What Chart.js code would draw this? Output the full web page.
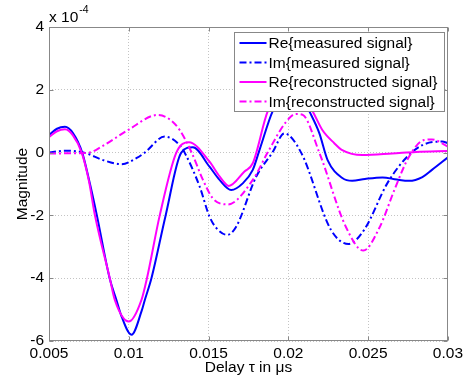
<!DOCTYPE html>
<html><head><meta charset="utf-8">
<script src="https://cdn.jsdelivr.net/npm/chart.js@4"></script>
<style>html,body{margin:0;padding:0;background:#fff}canvas{display:block}</style>
</head><body>
<canvas id="c" width="466" height="383"></canvas>
<script>
// ---- data (y values in units of 1e-4) ----
const xTicks = [0.005, 0.01, 0.015, 0.02, 0.025, 0.03];
const yTicks = [-6, -4, -2, 0, 2, 4];
const seriesNames = ['Re{measured signal}', 'Im{measured signal}', 'Re{reconstructed signal}', 'Im{reconstructed signal}'];

const reMeasX = [0.005, 0.0055, 0.006, 0.0065, 0.00708, 0.0075, 0.008, 0.0088, 0.00923, 0.0095, 0.01017, 0.0108, 0.0110, 0.01142, 0.01231, 0.01329, 0.01402, 0.01506, 0.01569, 0.01642, 0.01714, 0.01777, 0.01819, 0.01902, 0.0203, 0.02131, 0.02194, 0.02246, 0.02338, 0.0240, 0.0248, 0.0259, 0.0268, 0.02756, 0.0284, 0.0290, 0.0300];
const reMeasY = [0.56, 0.76, 0.82, 0.62, 0.0, -0.85, -2.0, -4.0, -4.7, -5.15, -5.8, -5.05, -4.7, -4.0, -2.0, 0.0, 0.17, -0.45, -0.87, -1.19, -0.98, -0.55, 0.08, 1.32, 2.3, 1.32, 0.62, -0.24, -0.81, -0.9, -0.84, -0.79, -0.86, -0.9, -0.78, -0.55, -0.15];

const imMeasX = [0.005, 0.006, 0.0072, 0.0084, 0.00954, 0.0105, 0.011, 0.01225, 0.01319, 0.0135, 0.01444, 0.01506, 0.01548, 0.01617, 0.01673, 0.01798, 0.0190, 0.01975, 0.0208, 0.02267, 0.02377, 0.02475, 0.0262, 0.02736, 0.0284, 0.02964, 0.030];
const imMeasY = [0.0, 0.06, 0.0, -0.24, -0.37, -0.17, 0.0, 0.51, 0.24, 0.0, -1.08, -2.04, -2.4, -2.62, -2.36, -0.77, 0.0, 0.61, 0.0, -2.46, -2.91, -2.46, -0.98, -0.18, 0.24, 0.35, 0.3];

const reRecX = [0.005, 0.0055, 0.006, 0.0065, 0.00705, 0.0075, 0.00788, 0.00881, 0.00913, 0.0100, 0.01079, 0.01114, 0.01194, 0.01298, 0.01377, 0.01506, 0.01569, 0.01627, 0.01725, 0.01777, 0.01871, 0.0202, 0.02152, 0.02213, 0.02288, 0.02338, 0.02463, 0.0265, 0.028, 0.030];
const reRecY = [0.49, 0.68, 0.74, 0.55, 0.0, -0.9, -2.0, -4.0, -4.7, -5.38, -4.7, -4.0, -2.0, 0.0, 0.33, -0.29, -0.76, -1.06, -0.6, -0.34, 1.32, 2.4, 1.32, 0.72, 0.3, 0.08, -0.08, -0.03, 0.02, 0.05];

const imRecX = [0.005, 0.0065, 0.0075, 0.0083, 0.00996, 0.01183, 0.01256, 0.01319, 0.01394, 0.01465, 0.01527, 0.0162, 0.01777, 0.0187, 0.01986, 0.02048, 0.0209, 0.02194, 0.0236, 0.0247, 0.02569, 0.02673, 0.02756, 0.0285, 0.0290, 0.0300];
const imRecY = [-0.03, -0.02, 0.0, 0.19, 0.72, 1.2, 1.06, 0.72, 0.0, -0.87, -1.46, -1.65, -0.87, 0.0, 0.98, 1.23, 1.2, 0.0, -2.36, -3.12, -2.41, -1.08, -0.13, 0.4, 0.42, 0.19];

const BLUE = '#0000ff', MAGENTA = '#ff00ff';
const FONT = '"Liberation Sans", Arial, Helvetica, sans-serif';
const DASHDOT = [7, 3, 2, 3];

const pts = (xs, ys) => xs.map((v, i) => ({x: v, y: ys[i]}));
const styles = [
  {color: BLUE, dash: []},
  {color: BLUE, dash: DASHDOT},
  {color: MAGENTA, dash: []},
  {color: MAGENTA, dash: DASHDOT}
];
const seriesData = [pts(reMeasX, reMeasY), pts(imMeasX, imMeasY), pts(reRecX, reRecY), pts(imRecX, imRecY)];

const datasets = seriesData.map((d, i) => ({
  label: seriesNames[i],
  data: d,
  borderColor: styles[i].color,
  borderDash: styles[i].dash,
  borderWidth: 2,
  pointRadius: 0,
  fill: false,
  cubicInterpolationMode: 'monotone',
  order: 3 - i
}));

const decor = {
  id: 'decor',
  afterDatasetsDraw(chart) {
    const {ctx, chartArea: a, scales: {x, y}} = chart;
    ctx.save();
    ctx.setLineDash([]);
    ctx.strokeStyle = '#888';
    ctx.lineWidth = 1;
    const L = Math.round(a.left) + 0.5, R = Math.round(a.right) - 0.5;
    const T = Math.round(a.top) + 0.5, B = Math.round(a.bottom) - 0.5;
    ctx.strokeRect(L, T, R - L, B - T);
    const seg = (x1, y1, x2, y2) => { ctx.beginPath(); ctx.moveTo(x1, y1); ctx.lineTo(x2, y2); ctx.stroke(); };
    xTicks.forEach(v => {
      const px = Math.round(x.getPixelForValue(v)) + 0.5;
      seg(px, B, px, B - 4); seg(px, T, px, T + 4);
    });
    yTicks.forEach(v => {
      const py = Math.round(y.getPixelForValue(v)) + 0.5;
      seg(L, py, L + 4, py); seg(R, py, R - 4, py);
    });
    // exponent label
    ctx.fillStyle = '#000';
    ctx.textBaseline = 'alphabetic';
    ctx.textAlign = 'left';
    ctx.font = '15.5px ' + FONT;
    const base = 'x 10';
    ctx.fillText(base, a.left, a.top - 5);
    const w = ctx.measureText(base).width;
    ctx.font = '10.5px ' + FONT;
    ctx.fillText('-4', a.left + w + 1, a.top - 14);
    // legend box
    const bw = 210, bh = 79;
    const bx = Math.round(a.right - 4 - bw) + 0.5, by = Math.round(a.top + 5) + 0.5;
    ctx.fillStyle = '#fff';
    ctx.fillRect(bx, by, bw, bh);
    ctx.strokeStyle = '#888';
    ctx.lineWidth = 1;
    ctx.strokeRect(bx, by, bw, bh);
    ctx.font = '15.5px ' + FONT;
    ctx.textBaseline = 'middle';
    seriesNames.forEach((name, i) => {
      const cy = by + 10.5 + i * 19.5;
      ctx.strokeStyle = styles[i].color;
      ctx.lineWidth = 2;
      ctx.setLineDash(styles[i].dash);
      seg(bx + 5, cy, bx + 32, cy);
      ctx.setLineDash([]);
      ctx.fillStyle = '#000';
      ctx.fillText(name, bx + 34, cy + 1);
    });
    ctx.restore();
  }
};

new Chart(document.getElementById('c'), {
  type: 'line',
  data: {datasets},
  options: {
    responsive: false,
    animation: false,
    devicePixelRatio: 1,
    layout: {padding: {top: 27, right: 18, left: 0, bottom: 0}},
    plugins: {legend: {display: false}, tooltip: {enabled: false}},
    scales: {
      x: {
        type: 'linear', min: 0.005, max: 0.03,
        afterFit: s => { s.height = 42; },
        afterBuildTicks: s => { s.ticks = xTicks.map(v => ({value: v})); },
        ticks: {
          color: '#000', font: {family: FONT, size: 15.5}, padding: 3, maxRotation: 0,
          callback: v => String(Number(v.toFixed(3)))
        },
        grid: {color: '#c4c4c4', drawTicks: false, lineWidth: 1},
        border: {display: false, dash: [1, 2]},
        title: {display: true, text: 'Delay τ in μs', color: '#000', font: {family: FONT, size: 15.5}, padding: {top: 0, bottom: 6}}
      },
      y: {
        type: 'linear', min: -6, max: 4,
        afterFit: s => { s.width = 49; },
        afterBuildTicks: s => { s.ticks = yTicks.map(v => ({value: v})); },
        ticks: {color: '#000', font: {family: FONT, size: 15.5}, padding: 5},
        grid: {color: '#c4c4c4', drawTicks: false, lineWidth: 1},
        border: {display: false, dash: [1, 2]},
        title: {display: true, text: 'Magnitude', color: '#000', font: {family: FONT, size: 15.5}, padding: {top: 13, bottom: 0}}
      }
    }
  },
  plugins: [decor]
});
</script>
</body></html>
